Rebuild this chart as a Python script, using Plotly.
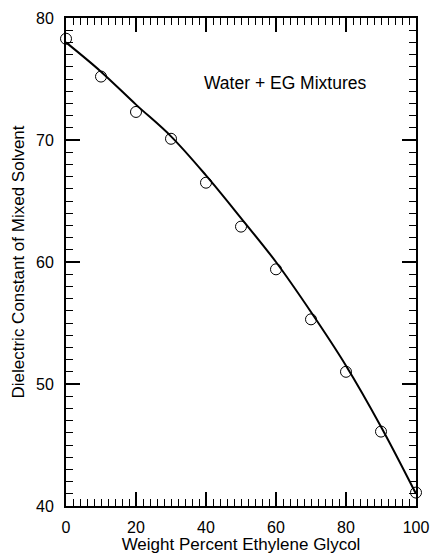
import plotly.graph_objects as go

# Measured data (circles)
wt_pct = [0, 10, 20, 30, 40, 50, 60, 70, 80, 90, 100]
dielectric = [78.3, 75.2, 72.3, 70.1, 66.5, 62.9, 59.4, 55.3, 51.0, 46.1, 41.1]

# Fitted curve
curve_x = [0, 10, 20, 30, 40, 50, 60, 70, 80, 90, 100]
curve_y = [78.0, 75.6, 72.9, 70.3, 67.1, 63.6, 60.0, 55.9, 51.5, 46.5, 41.0]

x_ticks = [0, 20, 40, 60, 80, 100]
y_ticks = [40, 50, 60, 70, 80]

FONT = "Liberation Sans, Arial, sans-serif"

fig = go.Figure()
fig.add_trace(go.Scatter(x=curve_x, y=curve_y, mode="lines",
                         line=dict(color="black", width=2, shape="spline"),
                         showlegend=False, hoverinfo="skip"))
fig.add_trace(go.Scatter(x=wt_pct, y=dielectric, mode="markers",
                         marker=dict(symbol="circle-open", size=11,
                                     color="black", line=dict(width=1, color="black")),
                         showlegend=False, cliponaxis=False))

fig.add_annotation(x=62.5, y=74.7, text="Water + EG Mixtures", showarrow=False,
                   font=dict(family=FONT, size=17.5, color="black"))

axis_common = dict(showgrid=False, zeroline=False, showline=True, linecolor="black",
                   linewidth=2, mirror="ticks", ticks="inside", tickcolor="black",
                   tickwidth=2, ticklen=14, automargin=False,
                   tickfont=dict(family=FONT, size=16, color="black"))

fig.update_xaxes(range=[0, 100], tickvals=x_ticks, ticktext=[str(v) for v in x_ticks],
                 minor=dict(dtick=2, ticks="inside", ticklen=7, tickwidth=1, tickcolor="black"),
                 ticklabelstandoff=6,
                 title=dict(text="Weight Percent Ethylene Glycol",
                            font=dict(family=FONT, size=17, color="black"), standoff=5),
                 **axis_common)
fig.update_yaxes(range=[40, 80], tickvals=y_ticks, ticktext=[str(v) for v in y_ticks],
                 minor=dict(dtick=1, ticks="inside", ticklen=7, tickwidth=1, tickcolor="black"),
                 ticklabelstandoff=7,
                 title=dict(text="Dielectric Constant of Mixed Solvent",
                            font=dict(family=FONT, size=17, color="black"), standoff=7),
                 **axis_common)

fig.update_layout(width=432, height=554, plot_bgcolor="white", paper_bgcolor="white",
                  margin=dict(l=66, r=16, t=18, b=48), autosize=False)

fig.write_html("out.html")
